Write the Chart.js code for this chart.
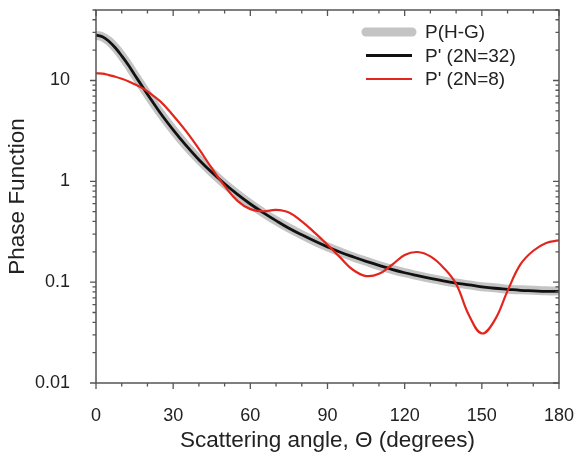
<!DOCTYPE html>
<html>
<head>
<meta charset="utf-8">
<script src="https://cdn.jsdelivr.net/npm/chart.js@4/dist/chart.umd.min.js"></script>
<style>
html,body{margin:0;padding:0;background:#fff;}
#wrap{width:577px;height:454px;}
</style>
</head>
<body>
<div id="wrap"><canvas id="c" width="577" height="454"></canvas></div>
<script>
// Scattering angle (degrees)
const angles = [0,2.5,5,7.5,10,12.5,15,17.5,20,25,30,35,40,45,50,55,60,65,70,75,80,85,90,95,100,105,110,115,120,125,130,135,140,145,150,155,160,165,170,175,180];
// P(H-G)
const hgValues = [28.0,27.1,24.6,21.2,17.6,14.3,11.4,9.13,7.31,4.78,3.24,2.27,1.65,1.23,0.945,0.744,0.597,0.489,0.407,0.344,0.295,0.255,0.224,0.199,0.178,0.161,0.146,0.134,0.124,0.116,0.109,0.103,0.098,0.094,0.090,0.088,0.085,0.084,0.083,0.082,0.082];
// P' (2N=32)
const p32Values = [28.2,27.2,24.5,21.1,17.5,14.3,11.4,9.12,7.30,4.76,3.24,2.27,1.64,1.23,0.946,0.742,0.596,0.490,0.408,0.343,0.295,0.256,0.224,0.198,0.178,0.161,0.147,0.134,0.124,0.116,0.109,0.103,0.098,0.094,0.090,0.087,0.085,0.083,0.082,0.081,0.081];
// P' (2N=8)
const p8Values = [11.8,11.7,11.3,10.9,10.4,9.85,9.2,8.55,7.8,6.2,4.5,3.15,2.1,1.35,0.90,0.64,0.53,0.505,0.52,0.49,0.40,0.31,0.235,0.175,0.132,0.115,0.121,0.148,0.186,0.199,0.180,0.140,0.096,0.047,0.031,0.042,0.082,0.150,0.205,0.245,0.260];
const seriesLabels = ["P(H-G)", "P' (2N=32)", "P' (2N=8)"];
const xTickValues = [0,30,60,90,120,150,180];
const yTickValues = [0.01,0.1,1,10];

const FONT = "'Liberation Sans', Arial, Helvetica, sans-serif";
const TXT = '#222';
const AX = '#555';

function pts(vals){ return angles.map((a,i)=>({x:a,y:vals[i]})); }
function zeroPad(s){ s.paddingLeft = 0; s.paddingRight = 0; s.paddingTop = 0; s.paddingBottom = 0; }

const framePlugin = {
  id:'frame',
  afterDatasetsDraw(chart){
    const ctx = chart.ctx, a = chart.chartArea;
    const xs = chart.scales.x, ys = chart.scales.y;
    ctx.save();
    ctx.strokeStyle = AX;
    ctx.lineWidth = 1.5;
    ctx.strokeRect(a.left, a.top, a.right-a.left, a.bottom-a.top);
    ctx.lineWidth = 1.3;
    ctx.beginPath();
    for(let v=0; v<=180; v+=10){
      const px = xs.getPixelForValue(v);
      const L = (v%30===0)?6:3.5;
      ctx.moveTo(px, a.bottom); ctx.lineTo(px, a.bottom+L);
      ctx.moveTo(px, a.top); ctx.lineTo(px, a.top+L);
    }
    for(let d=0.01; d<20; d*=10){
      for(let m=1; m<=9; m++){
        const v = d*m;
        if(v>ys.max+1e-9) break;
        const py = ys.getPixelForValue(v);
        const L = (m===1)?6:3.5;
        ctx.moveTo(a.left, py); ctx.lineTo(a.left-L, py);
        ctx.moveTo(a.right, py); ctx.lineTo(a.right-L, py);
      }
    }
    ctx.stroke();
    ctx.restore();
  },
  afterDraw(chart){
    const ctx = chart.ctx;
    const ds = chart.data.datasets;
    const x0 = 366, x1 = 412, tx = 425, y0 = 32, dy = 23.5;
    ctx.save();
    ctx.font = '19px ' + FONT;
    ctx.textBaseline = 'middle';
    ctx.textAlign = 'left';
    [0,1,2].forEach((idx,i)=>{
      const d = ds[idx];
      const y = y0 + i*dy;
      ctx.strokeStyle = d.borderColor;
      ctx.lineWidth = d.borderWidth;
      ctx.lineCap = idx===0 ? 'round' : 'butt';
      ctx.beginPath(); ctx.moveTo(x0,y); ctx.lineTo(x1,y); ctx.stroke();
      ctx.fillStyle = TXT;
      ctx.fillText(d.label, tx, y+1);
    });
    ctx.restore();
  }
};

new Chart(document.getElementById('c'), {
  type:'line',
  data:{
    datasets:[
      {label:seriesLabels[0], data:pts(hgValues), borderColor:'#c4c4c4', borderWidth:9, pointRadius:0, tension:0.4, order:2, borderCapStyle:'round', borderJoinStyle:'round'},
      {label:seriesLabels[1], data:pts(p32Values), borderColor:'#111111', borderWidth:2.8, pointRadius:0, tension:0.4, order:1, borderJoinStyle:'round'},
      {label:seriesLabels[2], data:pts(p8Values), borderColor:'#e3261d', borderWidth:2.2, pointRadius:0, tension:0.4, order:0, borderJoinStyle:'round'}
    ]
  },
  options:{
    responsive:false,
    animation:false,
    events:[],
    layout:{padding:{top:10,right:18,left:0,bottom:0}},
    plugins:{legend:{display:false}, tooltip:{enabled:false}},
    scales:{
      x:{
        type:'linear', min:0, max:180,
        grid:{display:false}, border:{display:false},
        afterBuildTicks(s){ s.ticks = xTickValues.map(v=>({value:v})); },
        ticks:{color:TXT, font:{size:18, family:FONT}, padding:14, maxRotation:0, callback:v=>String(v)},
        title:{display:true, text:'Scattering angle, \u0398 (degrees)', color:TXT, font:{size:22.5, family:FONT}, padding:{top:2,bottom:0}},
        afterFit(s){ s.height = 71; zeroPad(s); }
      },
      y:{
        type:'logarithmic', min:0.01, max:50,
        grid:{display:false}, border:{display:false},
        afterBuildTicks(s){ s.ticks = yTickValues.map(v=>({value:v})); },
        ticks:{color:TXT, font:{size:18, family:FONT}, padding:18, callback:v=>String(v)},
        title:{display:true, text:'Phase Function', color:TXT, font:{size:22.5, family:FONT}, padding:{top:4,bottom:0}},
        afterFit(s){ s.width = 96; zeroPad(s); }
      }
    }
  },
  plugins:[framePlugin]
});
</script>
</body>
</html>
